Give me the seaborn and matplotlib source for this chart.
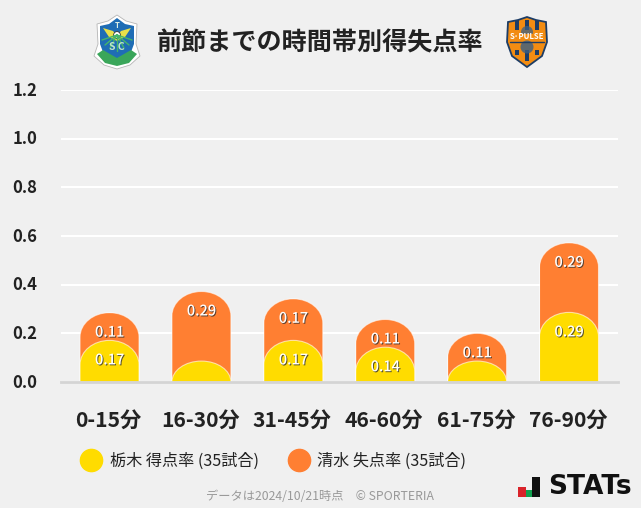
import matplotlib
matplotlib.use("Agg")
import matplotlib.pyplot as plt
import matplotlib.patheffects as pe
from matplotlib.lines import Line2D
from matplotlib.patches import PathPatch, Polygon, Rectangle, Circle
from matplotlib.path import Path
from matplotlib.transforms import ScaledTranslation
import numpy as np
import pandas as pd
import seaborn as sns

periods = ["0-15分", "16-30分", "31-45分", "46-60分", "61-75分", "76-90分"]
scored = [0.171, 0.086, 0.171, 0.143, 0.086, 0.286]
conceded = [0.114, 0.286, 0.171, 0.114, 0.114, 0.286]
y_ticks = [0.0, 0.2, 0.4, 0.6, 0.8, 1.0, 1.2]

legend_labels = ["栃木 得点率 (35試合)", "清水 失点率 (35試合)"]
title = "前節までの時間帯別得失点率"
footer = "データは2024/10/21時点　© SPORTERIA"

YELLOW = "#ffdc00"
ORANGE = "#ff7f32"
BG = "#f0f0f0"

sns.set_theme(style="whitegrid")
plt.rcParams["font.family"] = ["Noto Sans CJK JP", "DejaVu Sans"]

W, H = 641, 508
fig = plt.figure(figsize=(W / 100, H / 100), dpi=100, facecolor=BG)
ax = fig.add_axes([61 / W, (H - 382) / H, 557 / W, 292 / H], facecolor=BG)

df = pd.DataFrame({"period": periods, "scored": scored, "conceded": conceded})
df["total"] = df["scored"] + df["conceded"]

sns.barplot(data=df, x="period", y="total", color=ORANGE, width=0.642,
            saturation=1, ax=ax, zorder=3)
sns.barplot(data=df, x="period", y="scored", color=YELLOW, width=0.642,
            saturation=1, ax=ax, zorder=4)

ax.set_ylim(0, 1.2)
ax.set_xlim(-0.528, 5.533)
ax.set_yticks(y_ticks)
ax.set_yticklabels([f"{v:.1f}" for v in y_ticks])
ax.set_xlabel("")
ax.set_ylabel("")
ax.grid(axis="y", color="white", linewidth=1.5, zorder=0)
ax.grid(axis="x", visible=False)
ax.set_axisbelow(True)
for side in ["top", "left", "right"]:
    ax.spines[side].set_visible(False)
ax.spines["bottom"].set_color("#d4d4d4")
ax.spines["bottom"].set_linewidth(2)
ax.spines["bottom"].set_zorder(6)
ax.tick_params(axis="y", length=0, pad=17, labelsize=12, labelcolor="#222222")
ax.tick_params(axis="x", length=0, pad=20, labelsize=15.2, labelcolor="#222222")
for t in ax.get_xticklabels():
    t.set_fontweight("bold")
    t.set_transform(t.get_transform() + ScaledTranslation(-0.01, 0, fig.dpi_scale_trans))
for t in ax.get_yticklabels():
    t.set_fontweight("bold")
    t.set_transform(t.get_transform() + ScaledTranslation(0, 0.015, fig.dpi_scale_trans))


def round_top(x0, x1, h, ry=0.1):
    # css style border radius on the top corners, flat bottom
    ry = min(ry, h)
    rx = (x1 - x0) / 2
    k = 0.5523
    xc = (x0 + x1) / 2
    verts = [(x0, 0), (x0, h - ry),
             (x0, h - ry + k * ry), (xc - k * rx, h), (xc, h),
             (xc + k * rx, h), (x1, h - ry + k * ry), (x1, h - ry),
             (x1, 0), (x0, 0)]
    codes = [Path.MOVETO, Path.LINETO, Path.CURVE4, Path.CURVE4, Path.CURVE4,
             Path.CURVE4, Path.CURVE4, Path.CURVE4, Path.LINETO, Path.CLOSEPOLY]
    return Path(verts, codes)


bars = list(ax.patches)
for i, bar in enumerate(bars):
    x0, x1 = bar.get_x(), bar.get_x() + bar.get_width()
    h = bar.get_height()
    if not h:
        continue
    path = round_top(x0, x1, h)
    bar.set_clip_path(path, ax.transData)
    bar.set_linewidth(0)
    ax.add_patch(PathPatch(path, fill=False, edgecolor="white", alpha=0.6,
                           linewidth=0.8, zorder=bar.get_zorder()))

shadow = [pe.withSimplePatchShadow(offset=(0.7, -0.7), shadow_rgbFace="#333333", alpha=0.8)]
n = len(periods)
for i in range(n):
    for top, val in [(df["total"][i], conceded[i]), (scored[i], scored[i])]:
        if val < 0.1:  # small values have no label in the source chart
            continue
        ax.annotate(f"{val:.2f}", (i, top), xytext=(0, -14.4), textcoords="offset points",
                    ha="center", va="center", color="white", fontsize=10.5, fontweight="medium",
                    path_effects=shadow, zorder=7)

# legend
handles = [Line2D([], [], linestyle="", marker="o", markersize=16, color=YELLOW),
           Line2D([], [], linestyle="", marker="o", markersize=16, color=ORANGE)]
fig.legend(handles, legend_labels, loc="center left", bbox_to_anchor=(75 / W, (H - 461) / H),
           ncol=2, frameon=False, fontsize=11.6, labelcolor="#222222",
           handletextpad=0.15, columnspacing=1.5, borderpad=0, borderaxespad=0)

fig.text(320.5 / W, (H - 43) / H, title, ha="center", va="center", fontsize=18.05,
         fontweight="bold", color="#222222")
fig.text(320 / W, (H - 497) / H, footer, ha="center", va="center", fontsize=8.8, color="#999999")

# overlay in pixel coordinates for the crests and the logo
ov = fig.add_axes([0, 0, 1, 1], facecolor="none")
ov.set_xlim(0, W)
ov.set_ylim(H, 0)
ov.axis("off")

# Tochigi crest, drawn roughly
ov.add_patch(Polygon([(97, 24), (108, 21), (117, 15), (126, 21), (137, 24), (136, 44), (140, 56),
                      (130, 65), (117, 69), (104, 65), (94, 56), (98, 44)],
                     facecolor="white", edgecolor="#b5b5b5", linewidth=0.6))
ov.add_patch(Polygon([(100, 26), (109, 24), (117, 18), (125, 24), (134, 26), (134, 44), (131, 52),
                      (117, 60), (103, 52), (100, 44)],
                     facecolor="#1f6db5", edgecolor="none"))
ov.add_patch(Polygon([(97, 54), (103, 50), (117, 58), (131, 50), (137, 54), (129, 63), (117, 66), (105, 63)],
                     facecolor="#3aa65a", edgecolor="none"))
for dx, dy in [(-15, 5), (15, 5), (-12, 10), (12, 10), (-7, 13), (7, 13), (0, 16)]:
    ov.plot([117, 117 + dx], [35, 35 + dy], color="#45b56a", lw=1.0, solid_capstyle="round")
ov.add_patch(Polygon([(103, 28), (113, 31), (117, 36), (121, 31), (131, 28), (125, 37), (117, 41), (109, 37)],
                     facecolor="#e9e04a", edgecolor="none"))
ov.add_patch(Circle((117, 35), 3.4, facecolor="white", edgecolor="#333333", linewidth=0.6))
ov.text(117, 25, "T", ha="center", va="center", fontsize=5.5, color="#dff0e4", fontweight="bold")
ov.text(117, 47.5, "S C", ha="center", va="center", fontsize=7.5, color="#bfe6c8", fontweight="bold")

# Shimizu crest, drawn roughly
ov.add_patch(Polygon([(508, 22), (518, 20), (527, 17), (536, 20), (546, 22), (547, 42), (542, 56),
                      (527, 67), (512, 56), (507, 42)],
                     facecolor="#f28c12", edgecolor="#1d3d66", linewidth=1.3))
for sx in [517, 527, 537]:
    ov.add_patch(Rectangle((sx - 1.8, 20), 3.6, 10, facecolor="#1d3d66", edgecolor="none"))
    ov.add_patch(Rectangle((sx - 1.8, 50), 3.6, 11 if sx == 527 else 5, facecolor="#1d3d66", edgecolor="none"))
ov.add_patch(Circle((527, 32), 6, facecolor="#3a5f85", edgecolor="none", alpha=0.75))
ov.add_patch(Circle((527, 47), 6.5, facecolor="#3a5f85", edgecolor="none", alpha=0.8))
ov.add_patch(Rectangle((509, 33.5), 36, 6, facecolor="#f28c12", edgecolor="none"))
ov.text(527, 36.5, "S·PULSE", ha="center", va="center", fontsize=5.6, color="white", fontweight="bold")
ov.plot([510, 544], [41.5, 41.5], color="#1d3d66", lw=1.0)

# STATs logo
ov.add_patch(Rectangle((518, 487), 8, 10, facecolor="#d9232a", edgecolor="none"))
ov.add_patch(Rectangle((526, 490), 6, 7, facecolor="#12a150", edgecolor="none"))
ov.add_patch(Rectangle((532, 477), 8, 20, facecolor="#111111", edgecolor="none"))
ov.text(548, 487.5, "STATs", ha="left", va="center", fontsize=19, fontweight="bold",
        color="#111111", family="DejaVu Sans")

fig.savefig("out.png", dpi=100, facecolor=BG)
